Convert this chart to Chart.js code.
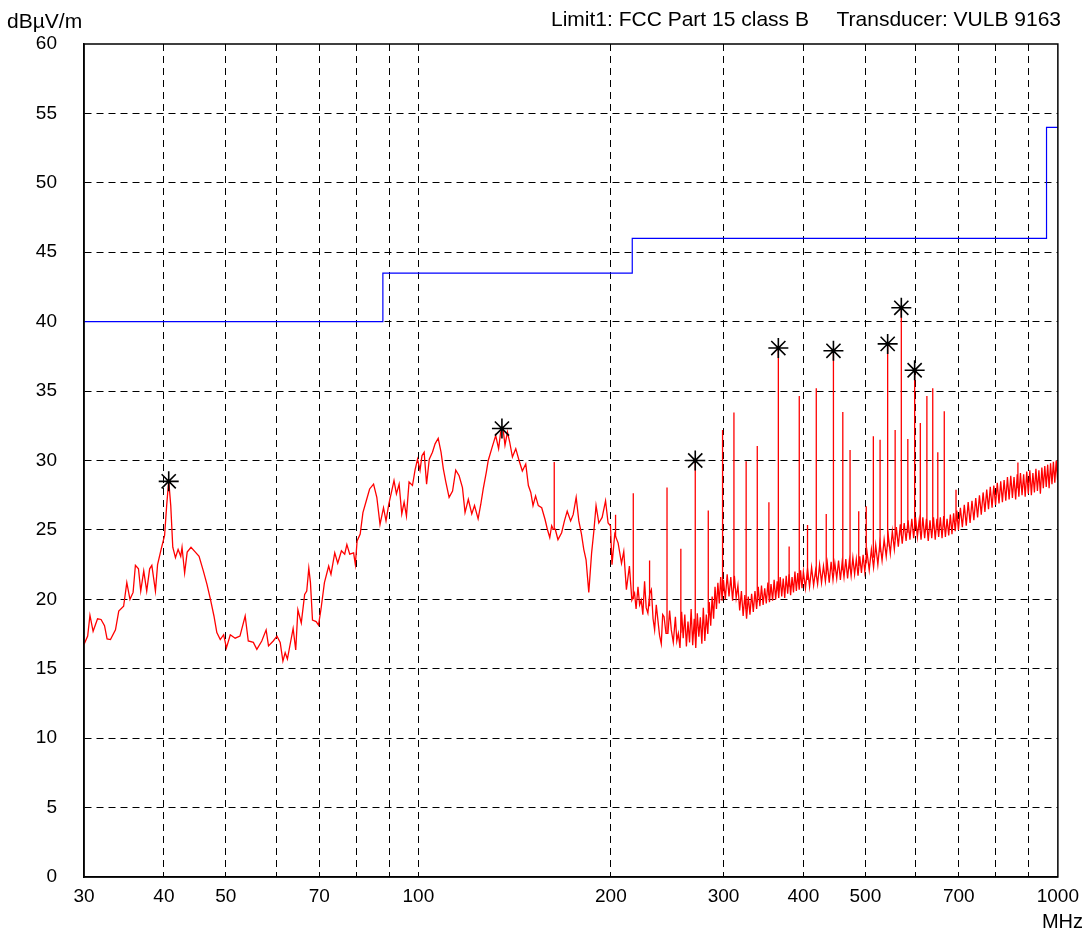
<!DOCTYPE html>
<html>
<head>
<meta charset="utf-8">
<script src="https://cdn.jsdelivr.net/npm/chart.js@4.4.0/dist/chart.umd.min.js"></script>
<style>
  html, body { margin: 0; background: #fff; }
</style>
</head>
<body>
<canvas id="emcChart" width="1087" height="933"></canvas>
<script>
// frequency axis
const xTickValues = [30, 40, 50, 60, 70, 80, 90, 100, 200, 300, 400, 500, 600, 700, 800, 900, 1000];
const xTickLabels = [30, 40, 50, 70, 100, 200, 300, 400, 500, 700, 1000];

// limit line FCC Part 15 class B (MHz, dBuV/m)
const limitFreq = [30, 88, 216, 960, 1000];
const limitLevel = [40, 43.5, 46, 54, 54];

// marked peaks
const peakFreq = [40.7, 135.1, 271, 365.5, 445.7, 541.8, 569.1, 597.1];
const peakLevel = [28.5, 32.3, 30.0, 38.1, 37.9, 38.4, 41.0, 36.5];

// measured trace, [MHz, dBuV/m]
const traceLow = [
  [30.0,16.75],[30.4,17.35],[30.65,18.85],[31.0,17.7],[31.5,18.6],[31.9,18.55],[32.3,18.1],[32.6,17.15],
  [33.0,17.1],[33.6,17.8],[34.0,19.15],[34.6,19.5],[35.0,21.2],[35.4,20.0],[35.8,20.5],[36.1,22.45],
  [36.5,22.2],[36.8,20.6],[37.2,22.05],[37.6,20.6],[38.0,22.2],[38.3,22.45],[38.8,20.6],[39.1,22.5],
  [39.6,23.6],[40.1,24.6],[40.4,26.75],[40.7,28.55],[41.0,26.75],[41.3,23.75],[41.7,23.0],[42.1,23.6],
  [42.5,23.1],[42.7,23.75],[43.1,21.9],[43.5,23.4],[44.1,23.75],[44.8,23.4],[45.4,23.1],[46.1,22.05],
  [46.7,21.1],[47.3,20.0],[47.9,18.8],[48.4,17.6],[49.0,17.1],[49.6,17.45],[50.1,16.5],[50.8,17.45],
  [51.7,17.2],[52.6,17.35],[53.6,18.8],[54.2,17.0],[55.2,16.9],[55.9,16.4],[56.9,17.0],[57.8,17.8],
  [58.3,16.65],[59.3,17.0],[60.1,17.35],[60.8,16.9],[61.4,15.55],[61.9,16.15],[62.4,15.7]
];

const traceMid = [
  [63.7,17.9],[64.3,16.35],[64.8,19.25],[65.6,18.3],[66.4,20.35],[66.9,20.6],[67.4,22.25],[67.8,21.2],
  [68.3,18.5],[69.2,18.4],[69.8,18.15],[70.4,19.25],[71.3,21.2],[72.4,22.4],[73.0,21.8],[74.0,23.35],
  [74.8,22.6],[75.8,23.5],[76.7,23.25],[77.3,23.95],[78.1,23.25],[79.2,23.35],[79.7,22.5],[80.2,24.2],
  [81.1,24.7],[81.9,26.25],[82.9,27.1],[83.9,27.95],[85.1,28.3],[86.1,27.35],[87.1,25.4],[88.2,26.6],
  [89.0,25.65],[89.9,26.85],[91.0,27.95],[91.6,28.55],[92.4,27.6],[93.3,28.3],[94.2,26.15],[95.0,27.0],
  [95.8,26.0],[96.7,28.45],[97.9,28.2],[98.8,29.3],[99.7,30.1],[100.6,29.3],[101.3,30.35],[102.1,30.6],
  [103.0,28.3],[104.0,30.1],[105.2,30.6],[106.2,31.2],[107.4,31.6],[108.5,30.6],[109.4,29.4],[110.4,28.45],
  [111.7,27.35],[113.1,27.8],[114.4,29.3],[115.8,28.9],[117.2,28.05],[118.3,26.25],[119.7,27.2],[121.2,26.15],
  [122.4,26.75],[124.0,25.8],[125.2,26.85],[126.3,27.95],[127.7,29.15],[128.6,30.0],[130.4,30.95],[132.1,31.8],
  [133.5,30.85],[134.5,32.05],[135.6,32.35],[136.6,31.1],[137.8,32.05],[138.9,31.35],[140.3,30.25],[142.0,30.85],
  [143.7,30.0],[145.4,29.25],[147.2,29.75],[148.6,28.2],[149.9,27.7],[151.1,26.75],[152.5,27.45],[154.0,26.75],
  [155.9,26.6],[157.8,25.75],[159.1,25.05],[160.5,24.45],[161.6,25.3],[162.5,25.05],[163.7,25.05],[165.3,24.3],
  [167.5,24.8],[169.2,25.65],[170.9,26.35],[173.0,25.65],[174.6,26.1],[176.5,27.35],[178.2,25.65],[179.9,24.7],
  [181.4,23.6],[182.9,22.85],[184.7,20.5],[186.6,23.35],[188.1,24.9],[189.6,26.75],[191.5,25.5],[193.8,25.9],
  [196.2,27.1],[198.0,25.5],[199.7,25.3],[200.8,22.5],[202.8,24.7],[205.3,24.05],[207.8,22.6],[209.5,23.45],
  [211.5,20.7],[213.8,22.4],[215.7,19.95],[217.8,20.45],[219.0,19.3],[220.5,20.9],[221.8,19.6],[223.1,19.95],
  [224.4,18.9],[225.8,21.3],[227.1,19.4],[228.5,19.0],[230.0,20.4],[231.4,20.7],[232.8,18.6],[234.1,17.8],
  [235.5,19.6],[236.9,18.5],[238.3,17.4],[239.8,16.8],[241.0,18.9],[242.2,18.75],[243.9,17.55],[245.6,17.55],
  [247.1,19.2],[248.6,17.8],[250.4,16.9],[252.3,18.75],[253.6,17.0],[255.0,17.55]
];

// dense noise floor above 255 MHz
const traceHigh = [
  [256.5,16.5],[258,19.1],[259.5,17.2],[261,18.9],[262.5,16.6],[264,18.4],[265.5,16.9],[267,19.3],
  [268.5,16.7],[270,18.6],[271.5,16.5],[273,19.0],[274.5,17.3],[276,18.7],[277.5,16.8],[279,19.4],
  [280.5,17.0],[282,18.9],[283.5,17.5],[285,19.8],[286.5,18.1],[288,20.2],[289.5,18.6],[291,20.9],
  [292.5,19.3],[294,21.2],[295.5,19.7],[297,21.6],[298.5,19.9],[300,21.4],
  [302,20.0],[304,21.8],[306,20.2],[308,21.6],[310,19.9],[312,21.7],[314,20.1],[316,21.0],
  [318,19.2],[320,20.6],[322,18.8],[324,20.3],[326,18.6],[328,20.2],[330,18.9],[332,20.4],
  [334,19.1],[336,20.6],[338,19.3],[340,20.9],[342,19.5],[344,21.0],[346,19.6],[348,20.8],
  [350,19.7],[352,21.2],[354,19.8],[356,21.1],[358,19.9],[360,21.4],[362,20.0],[364,21.3],
  [366,20.1],[368,21.6],[370,20.2],[372,21.5],[374,20.1],[376,21.7],[378,20.4],[380,21.8],
  [382,20.3],[384,21.6],[386,20.5],[388,22.0],[390,20.6],[392,21.9],[394,20.7],[396,22.1],
  [398,20.8],[400,22.0],
  [403,20.8],[406,22.2],[409,20.9],[412,22.3],[415,21.0],[418,22.1],[421,21.1],[424,22.5],
  [427,21.2],[430,22.4],[433,21.3],[436,22.6],[439,21.2],[442,22.7],[445,21.4],[448,22.6],
  [451,21.5],[454,22.8],[457,21.4],[460,22.7],[463,21.6],[466,22.9],[469,21.5],[472,22.8],
  [475,21.7],[478,23.0],[481,21.8],[484,22.9],[487,21.7],[490,23.1],[493,21.9],[496,23.2],
  [499,22.0],
  [503,23.4],[507,22.1],[511,23.6],[515,22.3],[519,23.9],[523,22.5],[527,24.1],[531,22.8],
  [535,24.3],[539,23.1],[543,24.6],[547,23.3],[551,24.9],[555,23.6],[559,25.2],[563,23.8],
  [567,25.4],[571,24.0],[575,25.5],[579,24.2],[583,25.7],[587,24.3],[591,25.8],[595,24.4],
  [599,25.9],[603,24.5],[607,25.7],[611,24.3],[615,25.9],[619,24.4],[623,25.8],[627,24.2],
  [631,25.7],[635,24.4],[639,25.9],[643,24.3],[647,25.8],[651,24.5],[655,25.9],[659,24.4],
  [663,26.0],[667,24.5],[671,25.8],[675,24.6],[679,26.1],[683,24.7],[687,26.2],[691,24.9],
  [695,26.4],[699,25.0],
  [704,26.6],[709,25.2],[714,26.8],[719,25.3],[724,27.0],[729,25.5],[734,27.1],[739,25.7],
  [744,27.3],[749,25.9],[754,27.5],[759,26.1],[764,27.7],[769,26.3],[774,27.9],[779,26.5],
  [784,28.1],[789,26.6],[794,28.2],[799,26.8],[804,28.4],[809,26.9],[814,28.5],[819,27.0],
  [824,28.6],[829,27.1],[834,28.8],[839,27.2],[844,28.9],[849,27.3],[854,28.8],[859,27.2],
  [864,29.0],[869,27.4],[874,29.1],[879,27.5],[884,29.0],[889,27.4],[894,29.2],[899,27.6],
  [904,29.3],[909,27.5],[914,29.1],[919,27.7],[924,29.4],[929,27.8],[934,29.3],[939,27.6],
  [944,29.5],[949,28.0],[954,29.6],[959,28.1],[964,29.7],[969,28.0],[974,29.8],[979,28.3],
  [984,29.9],[989,28.4],[994,30.0],[999,28.6]
];

// narrow emission lines: frequency, noise floor under the line, top of the line
const spikeFreq = [163.1, 203.4, 216.8, 229.9, 244.8, 257.3, 271, 284, 299, 311.5, 325.5, 338.8, 353.3,
  365.5, 380, 394.1, 406, 419, 434.3, 445.7, 461, 473.2, 488.2, 501.6, 514.6, 527.2, 541.8, 556.6,
  569.1, 582.6, 597.1, 609.4, 624, 637.3, 649, 664.3, 693, 866];
const spikeBase = [25.05, 24.5, 20.0, 19.5, 17.6, 17.6, 17.5, 19.0, 20.5, 20.8, 19.3, 19.8, 20.3,
  20.6, 20.9, 21.2, 21.4, 21.6, 21.8, 22.0, 22.1, 22.2, 22.4, 22.6, 23.0, 23.4, 23.8, 24.3,
  24.6, 24.8, 25.0, 25.0, 25.0, 25.1, 25.1, 25.2, 25.6, 28.0];
const spikeTop = [29.9, 26.1, 27.65, 22.8, 28.05, 23.65, 30.0, 26.4, 32.2, 33.45, 29.95, 31.05, 27.0,
  38.1, 23.8, 34.65, 25.35, 35.2, 26.15, 37.9, 33.5, 30.75, 26.35, 26.7, 31.75, 31.5, 38.4, 32.2,
  41.0, 31.55, 36.5, 32.7, 34.65, 35.2, 30.6, 33.55, 27.9, 29.85];

const trace = traceLow.concat(traceMid, traceHigh).map(p => ({ x: p[0], y: p[1] }));

const spikeSegments = [];
spikeFreq.forEach((f, i) => {
  spikeSegments.push({ x: f, y: spikeBase[i] }, { x: f, y: spikeTop[i] }, { x: f, y: null });
});

const limit = limitFreq.map((f, i) => ({ x: f, y: limitLevel[i] }));
const peaks = peakFreq.map((f, i) => ({ x: f, y: peakLevel[i] }));

const fontFamily = '"Liberation Sans", Arial, sans-serif';

const frameAndLabels = {
  id: 'frameAndLabels',
  afterDraw(chart) {
    const { ctx, chartArea: a } = chart;
    ctx.save();
    ctx.strokeStyle = '#000';
    ctx.lineWidth = 1.5;
    ctx.strokeRect(a.left, a.top, a.right - a.left, a.bottom - a.top);
    ctx.fillStyle = '#000';
    ctx.font = '21px ' + fontFamily;
    ctx.textBaseline = 'middle';
    ctx.textAlign = 'left';
    ctx.fillText('dBµV/m', 7, 22);
    ctx.fillText('Limit1: FCC Part 15 class B', 551, 20);
    ctx.textAlign = 'right';
    ctx.fillText('Transducer: VULB 9163', 1061, 20);
    ctx.font = '20px ' + fontFamily;
    ctx.fillText('MHz', 1083, 922);
    ctx.restore();
  }
};

const edgeless = (count) => (c) => (c.index === 0 || c.index === count - 1) ? 'rgba(0,0,0,0)' : '#000';

new Chart(document.getElementById('emcChart'), {
  type: 'line',
  data: {
    datasets: [
      {
        label: 'Peaks',
        data: peaks,
        showLine: false,
        pointStyle: 'star',
        pointRadius: 10,
        pointBorderWidth: 1.6,
        pointBorderColor: '#000',
        pointBackgroundColor: '#000'
      },
      {
        label: 'Lines',
        data: spikeSegments,
        borderColor: '#ff0000',
        borderWidth: 1.3,
        pointRadius: 0,
        spanGaps: false
      },
      {
        label: 'Level',
        data: trace,
        borderColor: '#ff0000',
        borderWidth: 1.3,
        pointRadius: 0,
        tension: 0
      },
      {
        label: 'Limit1',
        data: limit,
        borderColor: '#0000ff',
        borderWidth: 1.2,
        pointRadius: 0,
        stepped: true
      }
    ]
  },
  options: {
    responsive: false,
    animation: false,
    events: [],
    layout: { padding: { left: 0, right: 27, top: 44, bottom: 0 } },
    plugins: {
      legend: { display: false },
      tooltip: { enabled: false }
    },
    scales: {
      x: {
        type: 'logarithmic',
        min: 30,
        max: 1000,
        afterBuildTicks: (scale) => { scale.ticks = xTickValues.map(v => ({ value: v })); },
        afterFit: (scale) => { scale.height = 56; },
        ticks: {
          autoSkip: false,
          maxRotation: 0,
          padding: 8,
          color: '#000',
          font: { family: fontFamily, size: 19 },
          callback: (v) => xTickLabels.includes(v) ? String(v) : ''
        },
        grid: { color: edgeless(xTickValues.length), lineWidth: 1, drawTicks: false },
        border: { display: true, color: '#000', width: 1.5, dash: [7, 5] }
      },
      y: {
        min: 0,
        max: 60,
        afterFit: (scale) => { scale.width = 84; },
        ticks: {
          stepSize: 5,
          padding: 27,
          color: '#000',
          font: { family: fontFamily, size: 19 }
        },
        grid: { color: edgeless(13), lineWidth: 1, drawTicks: false },
        border: { display: true, color: '#000', width: 1.5, dash: [7, 5] }
      }
    }
  },
  plugins: [frameAndLabels]
});
</script>
</body>
</html>
